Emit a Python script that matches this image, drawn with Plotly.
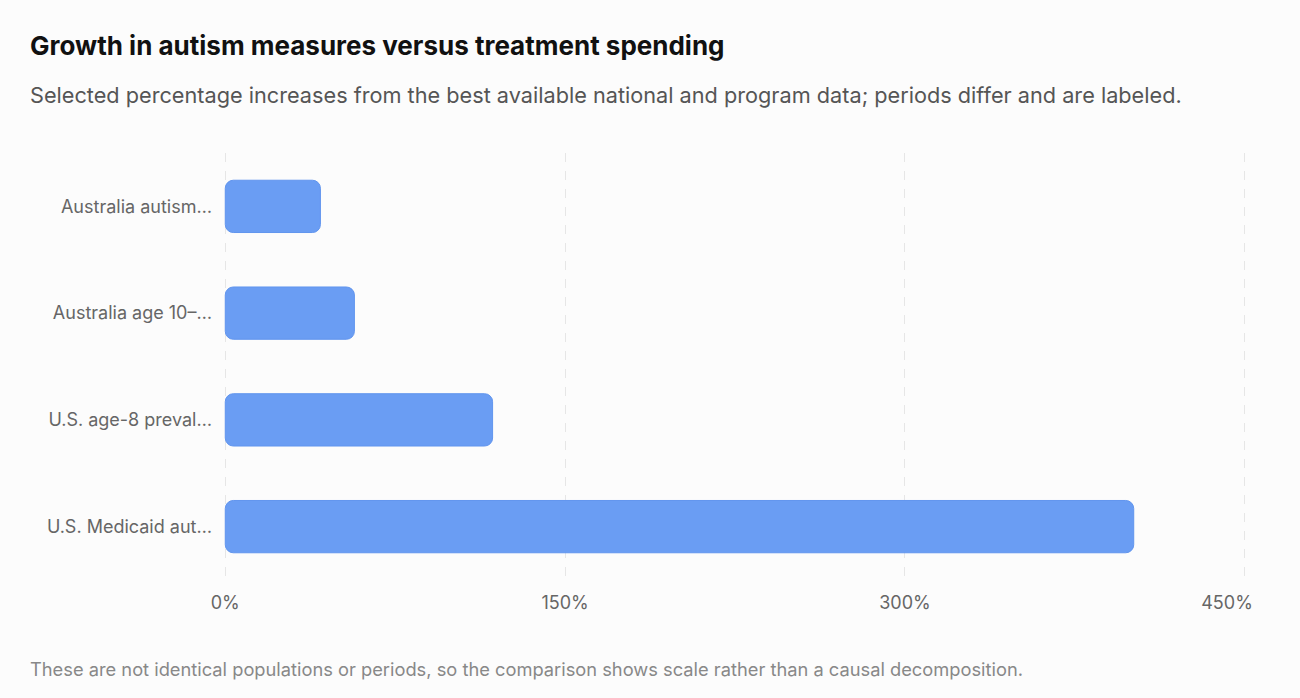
import plotly.graph_objects as go

# truncated labels as shown on the chart, bottom to top
categories = ["U.S. Medicaid aut…", "U.S. age-8 preval…", "Australia age 10–…", "Australia autism…"]
increase_pct = [401, 118, 57, 42]
x_ticks = [0, 150, 300, 450]
x_tick_labels = ["0%", "150%", "300%", "450%" + "\u00a0" * 7]

title = "Growth in autism measures versus treatment spending"
subtitle = "Selected percentage increases from the best available national and program data; periods differ and are labeled."
footer = "These are not identical populations or periods, so the comparison shows scale rather than a causal decomposition."

font = "Inter, 'Open Sans', sans-serif"

fig = go.Figure(go.Bar(
    y=categories, x=increase_pct, base=0, orientation="h",
    marker=dict(color="#6a9df3", line=dict(width=1, color="#6195ee"), cornerradius=8),
    hovertemplate="%{y}: %{x}%<extra></extra>",
))

fig.update_layout(
    width=1300, height=698,
    paper_bgcolor="#fcfcfc", plot_bgcolor="#fcfcfc",
    margin=dict(l=223, r=48, t=153, b=118),
    bargap=0.51,
    showlegend=False,
    font=dict(family=font, color="#666666", size=18),
    title=dict(
        text=title, x=30/1300, xanchor="left", xref="container",
        y=1-46/698, yanchor="middle", yref="container",
        font=dict(family=font, size=26, color="#111111", weight="bold"),
    ),
    annotations=[
        dict(text=subtitle, xref="paper", yref="paper", x=(27-223)/1029, y=(580-95)/427,
             xanchor="left", yanchor="middle", showarrow=False,
             font=dict(family=font, size=21.7, color="#555555")),
        dict(text=footer, xref="paper", yref="paper", x=(27-223)/1029, y=(580-669)/427,
             xanchor="left", yanchor="middle", showarrow=False,
             font=dict(family=font, size=18.3, color="#888888")),
    ],
)

fig.update_xaxes(
    range=[-1, 451], tickvals=x_ticks, ticktext=x_tick_labels,
    showgrid=True, gridcolor="#e6e6e6", griddash="dash", gridwidth=1,
    zeroline=False, showline=False, ticks="", ticklabelstandoff=10,
    tickfont=dict(size=18, color="#666666"),
)
fig.update_yaxes(
    showgrid=False, zeroline=False, showline=False, ticks="",
    ticklabelstandoff=10, tickfont=dict(size=18, color="#666666"),
)

# the page has a default body margin that pushes the figure off the window origin
fig.write_html("out.html", config={"displayModeBar": False},
               post_script="document.body.style.margin='0';")
